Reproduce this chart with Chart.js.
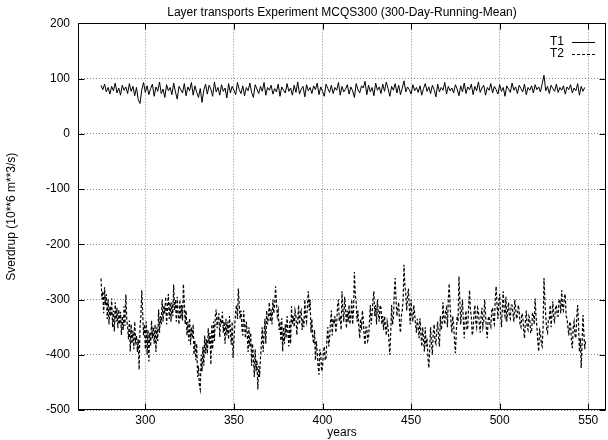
<!DOCTYPE html>
<html>
<head>
<meta charset="utf-8">
<title>Layer transports</title>
<script src="https://cdn.jsdelivr.net/npm/chart.js@4/dist/chart.umd.min.js"></script>
<style>
  body { margin: 0; background: #fff; }
  canvas { display: block; }
</style>
</head>
<body>
<canvas id="transportChart" width="608" height="440"></canvas>
<script>
// 300-day running mean, both layers start in year 275
const firstYear = 275;
const t1Step = 1;    // T1 sampled once per year
const t2Step = 0.5;  // T2 sampled twice per year

const t1 = [
  88, 80, 90, 76, 84, 72, 86, 78, 92, 74, 83, 70, 88, 79, 85, 73, 91, 77, 86, 69,
  84, 62, 55, 80, 93, 75, 87, 71, 82, 90, 68, 85, 77, 94, 73, 81, 66, 89, 78, 84,
  71, 92, 76, 63, 86, 80, 74, 91, 69, 85, 78, 93, 70, 87, 75, 66, 82, 57, 79, 90,
  72, 88, 81, 68, 94, 76, 84, 70, 89, 77, 83, 65, 91, 74, 86, 79, 71, 93, 80, 73,
  87, 69, 84, 78, 92, 75, 66, 89, 81, 73, 86, 77, 93, 70, 84, 79, 88, 72, 82, 76,
  90, 68, 85, 79, 74, 91, 77, 83, 70, 88, 75, 94, 72, 81, 86, 67, 89, 78, 84, 73,
  87, 80, 92, 71, 85, 77, 68, 90, 82, 75, 88, 73, 84, 79, 93, 70, 86, 76, 81, 89,
  72, 85, 78, 66, 91, 80, 74, 87, 83, 95, 71, 88, 76, 84, 69, 92, 79, 85, 73, 90,
  77, 94, 82, 68, 86, 79, 91, 74, 88, 71, 83, 96, 76, 85, 80, 72, 89, 78, 84, 75,
  87, 70, 82, 91, 77, 85, 73, 88, 80, 67, 90, 76, 84, 79, 93, 72, 86, 78, 83, 74,
  89, 81, 69, 87, 76, 92, 73, 85, 80, 90, 71, 86, 78, 94, 75, 83, 88, 70, 84, 79,
  91, 74, 86, 80, 72, 89, 77, 84, 68, 87, 81, 75, 92, 79, 85, 73, 88, 82, 76, 90,
  71, 84, 79, 87, 74, 89, 80, 85, 76, 91, 106, 78, 86, 73, 88, 82, 77, 90, 75, 84,
  79, 87, 72, 85, 80, 89, 74, 83, 78, 91, 70, 86, 77, 84
];

// one row per ten years
const t2 = [
  -262, -300, -285, -325, -278, -310, -290, -335, -300, -345, -312, -330, -298, -350, -320, -358, -305, -340, -315, -352,
  -318, -345, -322, -364, -330, -355, -312, -348, -291, -335, -350, -372, -338, -394, -345, -380, -356, -390, -340, -375,
  -365, -395, -372, -427, -350, -330, -283, -325, -365, -345, -390, -340, -400, -355, -412, -360, -385, -338, -370, -350,
  -380, -345, -395, -350, -375, -318, -360, -330, -345, -300, -340, -310, -325, -295, -345, -315, -290, -335, -305, -340,
  -305, -330, -273, -320, -300, -340, -295, -325, -345, -300, -335, -310, -338, -272, -305, -345, -320, -365, -340, -375,
  -334, -382, -350, -370, -345, -400, -375, -410, -380, -440, -420, -455, -463, -400, -430, -385, -420, -365, -398, -372,
  -398, -352, -380, -360, -418, -345, -390, -340, -375, -330, -318, -352, -335, -325, -368, -335, -345, -322, -360, -340,
  -380, -335, -365, -340, -372, -330, -355, -382, -340, -406, -375, -345, -320, -310, -335, -280, -310, -335, -320, -350,
  -365, -320, -345, -370, -340, -360, -395, -350, -385, -360, -420, -380, -405, -440, -390, -430, -410, -463, -420, -440,
  -405, -380, -350, -395, -365, -335, -380, -320, -345, -330, -305, -340, -318, -345, -300, -325, -310, -276, -305, -330,
  -320, -355, -340, -375, -334, -394, -350, -380, -345, -370, -330, -360, -385, -340, -380, -312, -345, -330, -350, -320,
  -330, -364, -340, -310, -345, -325, -320, -355, -335, -350, -300, -330, -340, -310, -285, -320, -300, -360, -335, -370,
  -380, -355, -410, -375, -395, -420, -436, -390, -400, -430, -424, -395, -385, -410, -405, -370, -350, -385, -370, -340,
  -320, -365, -335, -345, -330, -360, -345, -310, -300, -340, -330, -355, -285, -320, -340, -295, -315, -352, -320, -340,
  -310, -345, -330, -300, -345, -320, -250, -290, -305, -340, -320, -350, -370, -335, -355, -320, -335, -365, -382, -350,
  -350, -375, -370, -340, -310, -345, -325, -300, -285, -330, -310, -345, -300, -325, -340, -310, -315, -345, -330, -355,
  -330, -350, -365, -340, -350, -375, -400, -360, -310, -345, -335, -290, -261, -300, -330, -315, -305, -345, -360, -330,
  -320, -300, -237, -275, -290, -320, -295, -280, -315, -345, -300, -330, -340, -310, -325, -345, -360, -335, -350, -370,
  -334, -360, -385, -350, -370, -394, -350, -385, -370, -405, -424, -390, -350, -380, -400, -360, -345, -375, -380, -355,
  -340, -370, -385, -330, -355, -345, -305, -335, -345, -320, -315, -350, -300, -271, -310, -340, -360, -330, -345, -375,
  -397, -360, -330, -340, -258, -300, -345, -320, -300, -340, -370, -335, -320, -355, -350, -310, -283, -320, -330, -365,
  -355, -325, -310, -340, -350, -315, -320, -345, -360, -330, -315, -350, -340, -300, -325, -355, -370, -335, -330, -345,
  -350, -320, -315, -340, -345, -300, -276, -310, -335, -305, -290, -325, -350, -315, -285, -320, -330, -295, -340, -320,
  -305, -330, -335, -310, -310, -325, -340, -300, -315, -335, -330, -310, -320, -345, -350, -325, -330, -355, -370, -340,
  -320, -350, -355, -330, -335, -360, -360, -325, -325, -345, -298, -330, -350, -375, -394, -355, -360, -380, -385, -350,
  -261, -300, -330, -355, -360, -335, -335, -310, -350, -330, -303, -335, -340, -315, -310, -330, -330, -300, -300, -325,
  -283, -315, -320, -295, -290, -330, -334, -350, -365, -340, -345, -375, -388, -350, -340, -365, -370, -330, -310, -345,
  -395, -370, -424, -380, -328, -360, -390, -375
];

const xTicks = [300, 350, 400, 450, 500, 550];
const yTicks = [-500, -400, -300, -200, -100, 0, 100, 200];

const FAMILY = "'Liberation Sans', Arial, sans-serif";
const FONT = { family: FAMILY, size: 12, weight: 'normal' };

function toPoints(values, step) {
  return values.map((v, i) => ({ x: firstYear + i * step, y: v }));
}

// gnuplot-like frame: box on all four sides, inward tick marks, key in the top right corner
const framePlugin = {
  id: 'frame',
  afterDatasetsDraw(chart) {
    const { ctx, chartArea: a, scales: { x, y } } = chart;
    const L = Math.round(a.left) + 0.5, R = Math.round(a.right) - 0.5;
    const T = Math.round(a.top) + 0.5, B = Math.round(a.bottom) - 0.5;
    ctx.save();
    ctx.strokeStyle = '#000';
    ctx.lineWidth = 1;
    ctx.setLineDash([]);
    ctx.strokeRect(L, T, R - L, B - T);

    ctx.beginPath();
    xTicks.forEach(v => {
      const px = Math.round(x.getPixelForValue(v)) + 0.5;
      ctx.moveTo(px, B); ctx.lineTo(px, B - 6);
      ctx.moveTo(px, T); ctx.lineTo(px, T + 6);
    });
    yTicks.forEach(v => {
      const py = Math.round(y.getPixelForValue(v)) + 0.5;
      ctx.moveTo(L, py); ctx.lineTo(L + 6, py);
      ctx.moveTo(R, py); ctx.lineTo(R - 6, py);
    });
    ctx.stroke();

    // key
    ctx.font = FONT.size + 'px ' + FAMILY;
    ctx.fillStyle = '#000';
    ctx.textAlign = 'right';
    ctx.textBaseline = 'middle';
    chart.data.datasets.forEach((ds, i) => {
      const ky = 42 + i * 12;
      ctx.fillText(ds.label, 564, ky);
      ctx.beginPath();
      ctx.lineWidth = 1;
      ctx.setLineDash(ds.borderDash || []);
      ctx.moveTo(572, ky + 0.5);
      ctx.lineTo(595, ky + 0.5);
      ctx.stroke();
    });
    ctx.restore();
  }
};

new Chart(document.getElementById('transportChart'), {
  type: 'line',
  data: {
    datasets: [
      {
        label: 'T1',
        data: toPoints(t1, t1Step),
        borderColor: '#000',
        borderWidth: 1,
        pointRadius: 0,
        tension: 0
      },
      {
        label: 'T2',
        data: toPoints(t2, t2Step),
        borderColor: '#000',
        borderWidth: 1.2,
        borderDash: [3, 2],
        pointRadius: 0,
        tension: 0
      }
    ]
  },
  options: {
    responsive: false,
    animation: false,
    devicePixelRatio: 1,
    layout: { padding: { left: 0, right: 2, top: 0, bottom: 0 } },
    plugins: {
      legend: { display: false },
      tooltip: { enabled: false },
      title: {
        display: true,
        fullSize: false,
        text: 'Layer transports Experiment MCQS300 (300-Day-Running-Mean)',
        color: '#000',
        font: FONT,
        padding: { top: 5, bottom: 4 }
      }
    },
    scales: {
      x: {
        type: 'linear',
        min: 262,
        max: 560,
        afterBuildTicks: scale => { scale.ticks = xTicks.map(v => ({ value: v })); },
        afterFit: scale => { scale.height = 30; },
        ticks: { color: '#000', font: FONT, padding: 3, maxRotation: 0 },
        grid: { color: '#888', drawTicks: false },
        border: { display: false, dash: [1, 2] },
        title: { display: true, text: 'years', color: '#000', font: FONT, padding: { top: -2, bottom: 0 } }
      },
      y: {
        min: -500,
        max: 200,
        afterBuildTicks: scale => { scale.ticks = yTicks.map(v => ({ value: v })); },
        afterFit: scale => { scale.width = 78; },
        ticks: { color: '#000', font: FONT, padding: 8 },
        grid: { color: '#888', drawTicks: false },
        border: { display: false, dash: [1, 2] },
        title: { display: true, text: 'Sverdrup (10**6 m**3/s)', color: '#000', font: FONT, padding: { top: 4, bottom: 0 } }
      }
    }
  },
  plugins: [framePlugin]
});
</script>
</body>
</html>
